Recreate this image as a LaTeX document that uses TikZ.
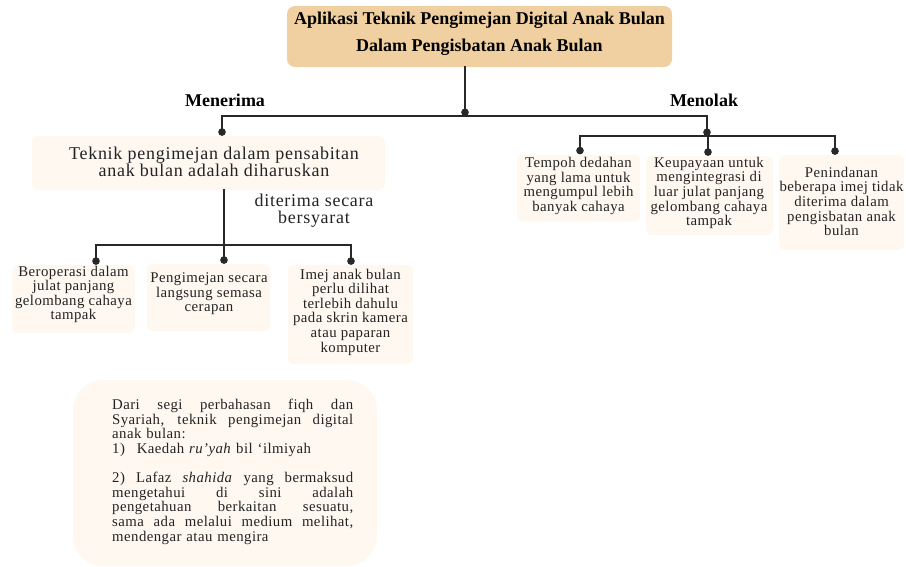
\documentclass[tikz,border=0pt]{standalone}
\usepackage{fontspec}
\setmainfont{Liberation Serif}
\newfontfamily\trk[LetterSpace=3]{Liberation Serif}
\newfontfamily\trkb[LetterSpace=4]{Liberation Serif}
\usetikzlibrary{arrows.meta}
\definecolor{titlefill}{RGB}{240,207,160}
\definecolor{boxfill}{RGB}{254,248,241}
\definecolor{linec}{RGB}{40,40,40}
\definecolor{textc}{RGB}{35,35,35}
\newcommand\smallf{\trk\fontsize{14.8}{14.6}\selectfont}
\newcommand\medf{\trkb\fontsize{18}{17}\selectfont}
\newcommand\bigf{\bfseries\fontsize{18}{27}\selectfont}
\newcommand\jline[1]{\leavevmode\hbox to 241pt{\spaceskip=0.3em plus 1fil\relax #1}}
\tikzset{
  box/.style={rounded corners=6pt, fill=boxfill, inner sep=0pt},
  txt/.style={align=center, inner sep=0pt, font=\smallf, text=textc},
  conn/.style={draw=linec, line width=1.8pt, line cap=rect},
  dot/.style={-{Circle[length=7.5pt,width=7.5pt]}},
  lbl/.style={inner sep=0pt, font=\bigf, text=black}
}
\begin{document}
\begin{tikzpicture}[x=1pt,y=-1pt]
\useasboundingbox (0,0) rectangle (906,566);
% title
\node[rounded corners=8pt, fill=titlefill, inner sep=0pt, minimum width=385pt, minimum height=61pt] (title) at (479.5,36.5) {};
\node[lbl, align=center] (titletxt) at (479.5,34) {Aplikasi Teknik Pengimejan Digital Anak Bulan\\Dalam Pengisbatan Anak Bulan};
\node[lbl] (menerima) at (225,100) {Menerima};
\node[lbl] (menolak) at (704,100) {Menolak};
% main left box
\node[box, minimum width=353pt, minimum height=54pt] (mainbox) at (208.5,163) {};
\node[txt, font=\medf] (maintxt) at (214,161.5) {Teknik pengimejan dalam pensabitan\\anak bulan adalah diharuskan};
\node[txt, font=\medf] (syarat) at (314,210.5) {diterima secara\\bersyarat};
% lower left boxes
\node[box, minimum width=123pt, minimum height=68pt] (boxA) at (73.5,299) {};
\node[txt] (txtA) at (73.5,294.5) {Beroperasi dalam\\julat panjang\\gelombang cahaya\\tampak};
\node[box, minimum width=123pt, minimum height=67pt] (boxB) at (208.5,297.5) {};
\node[txt] (txtB) at (209,294) {Pengimejan secara\\langsung semasa\\cerapan};
\node[box, minimum width=125pt, minimum height=99pt] (boxC) at (350.5,314.5) {};
\node[txt] (txtC) at (350.5,312) {Imej anak bulan\\perlu dilihat\\terlebih dahulu\\pada skrin kamera\\atau paparan\\komputer};
% right boxes
\node[box, minimum width=123pt, minimum height=67pt] (boxD) at (578.5,188) {};
\node[txt] (txtD) at (578.5,186) {Tempoh dedahan\\yang lama untuk\\mengumpul lebih\\banyak cahaya};
\node[box, minimum width=127pt, minimum height=79pt] (boxE) at (709.5,195.5) {};
\node[txt] (txtE) at (709,193) {Keupayaan untuk\\mengintegrasi di\\luar julat panjang\\gelombang cahaya\\tampak};
\node[box, minimum width=125pt, minimum height=95pt] (boxF) at (841.5,202.5) {};
\node[txt] (txtF) at (841.5,201.5) {Penindanan\\beberapa imej tidak\\diterima dalam\\pengisbatan anak\\bulan};
% bottom note
\node[box, rounded corners=30pt, minimum width=304pt, minimum height=186pt] (note) at (225,473) {};
\node[inner sep=0pt, anchor=north west, align=left, text width=241pt, font=\smallf, text=textc] (notetxt) at (112,399) {%
\jline{Dari segi perbahasan fiqh dan}\\
\jline{Syariah, teknik pengimejan digital}\\
anak bulan:\\
1)\hspace{0.8em}Kaedah \textit{ru’yah} bil ‘ilmiyah\\[14.6pt]
\jline{2) Lafaz \textit{shahida} yang bermaksud}\\
\jline{mengetahui di sini adalah}\\
\jline{pengetahuan berkaitan sesuatu,}\\
\jline{sama ada melalui medium melihat,}\\
mendengar atau mengira};
% connectors
\coordinate (j0) at (465,116);
\coordinate (jl) at (222,116);
\coordinate (jr) at (707,116);
\coordinate (jr2) at (707,136);
\coordinate (jD) at (580,136);
\coordinate (jE) at (708,136);
\coordinate (jF) at (835,136);
\coordinate (jm) at (224,245);
\coordinate (jA) at (96,245);
\coordinate (jB) at (224,245);
\coordinate (jC) at (351,245);
\draw[conn] (jl) -- (jr);
\draw[conn, dot] (title.south -| j0) -- (j0);
\draw[conn, dot] (jl) -- (jl |- mainbox.north);
\draw[conn, dot] (jr) -- (jr2);
\draw[conn] (jD) -- (jF);
\draw[conn, dot] (jD) -- (jD |- boxD.north);
\draw[conn, dot] (jE) -- (jE |- boxE.north);
\draw[conn, dot] (jF) -- (jF |- boxF.north);
\draw[conn] (mainbox.south -| jm) -- (jm);
\draw[conn] (jA) -- (jC);
\draw[conn, dot] (jA) -- (jA |- boxA.north);
\draw[conn, dot] (jB) -- (jB |- boxB.north);
\draw[conn, dot] (jC) -- (jC |- boxC.north);
\end{tikzpicture}
\end{document}
